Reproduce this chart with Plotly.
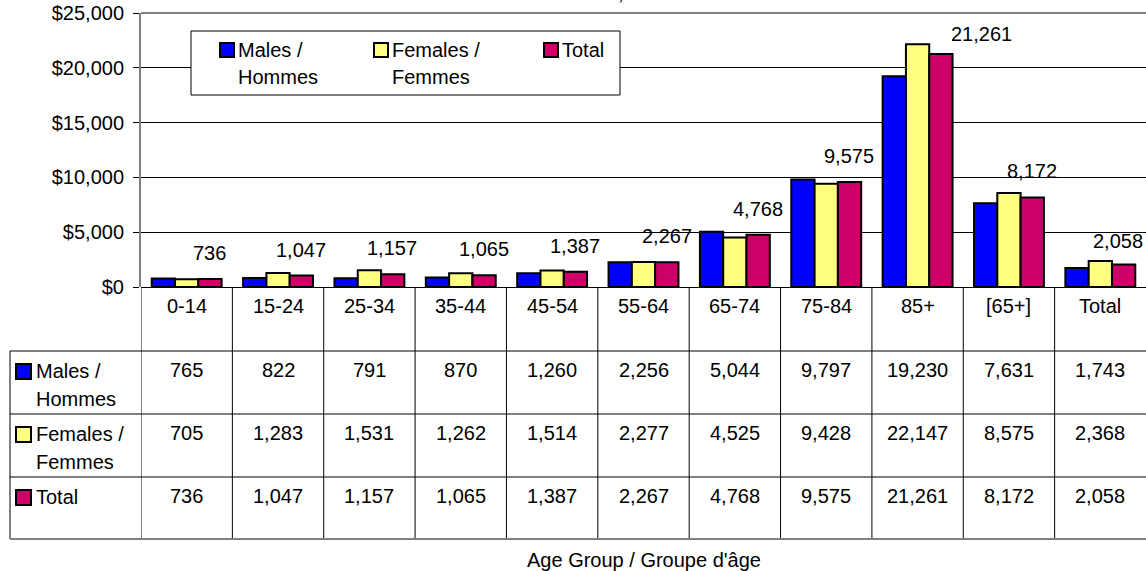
import plotly.graph_objects as go

# ---------------- data ----------------
categories = ["0-14", "15-24", "25-34", "35-44", "45-54", "55-64",
              "65-74", "75-84", "85+", "[65+]", "Total"]
males = [765, 822, 791, 870, 1260, 2256, 5044, 9797, 19230, 7631, 1743]
females = [705, 1283, 1531, 1262, 1514, 2277, 4525, 9428, 22147, 8575, 2368]
total = [736, 1047, 1157, 1065, 1387, 2267, 4768, 9575, 21261, 8172, 2058]
series_lines = [["Males /", "Hommes"], ["Females /", "Femmes"], ["Total"]]
y_ticks = [0, 5000, 10000, 15000, 20000, 25000]
y_tick_labels = ["$0", "$5,000", "$10,000", "$15,000", "$20,000", "$25,000"]
title_text = "Canada, 1998-99"
x_title = "Age Group / Groupe d'âge"

# ---------------- style / geometry ----------------
colors = ["#0000FF", "#FFFF80", "#CC0066"]
FONT = "Liberation Sans, Arial, sans-serif"
FS = 20
W, H = 1146, 571
L, T, B, R = 141, 13, 284, 0
PH = H - T - B
PW = W - L - R


def yp(pix):
    return (H - B - pix) / PH


def xp(pix):
    return (pix - L) / PW


series = [males, females, total]
fig = go.Figure()
for lines, vals, col in zip(series_lines, series, colors):
    fig.add_trace(go.Bar(
        x=categories, y=vals, name=" ".join(lines),
        marker=dict(color=col, line=dict(color="black", width=2)),
        showlegend=False, hoverinfo="x+y",
    ))

shapes = []
ann = []

# top border of plot
shapes.append(dict(type="line", xref="paper", yref="paper", x0=0, x1=1,
                   y0=1, y1=1, line=dict(color="#808080", width=2)))

# table vertical lines
for i in range(len(categories)):
    shapes.append(dict(type="line", xref="x", yref="paper", x0=i - 0.5,
                       x1=i - 0.5, y0=yp(287), y1=yp(539),
                       line=dict(color="black", width=1)))
# left edge of label column
shapes.append(dict(type="line", xref="paper", yref="paper", x0=xp(10),
                   x1=xp(10), y0=yp(351), y1=yp(539),
                   line=dict(color="black", width=1)))
# horizontal table lines
for pix in [351, 414, 477]:
    shapes.append(dict(type="line", xref="paper", yref="paper", x0=xp(10),
                       x1=1, y0=yp(pix), y1=yp(pix),
                       line=dict(color="black", width=1)))
shapes.append(dict(type="line", xref="paper", yref="paper", x0=xp(10),
                   x1=1, y0=yp(539), y1=yp(539),
                   line=dict(color="#808080", width=2)))

txt = dict(family=FONT, size=FS, color="black")

# header row (categories)
for c in categories:
    ann.append(dict(x=c, xref="x", y=yp(306), yref="paper", text=c,
                    showarrow=False, font=txt, yanchor="middle"))

# table rows
row_tops = [351, 414, 477]
for r, (lines, vals, col) in enumerate(zip(series_lines, series, colors)):
    top = row_tops[r]
    shapes.append(dict(type="rect", xref="paper", yref="paper",
                       x0=xp(16), x1=xp(31), y0=yp(top + 13), y1=yp(top + 28),
                       fillcolor=col, line=dict(color="black", width=2)))
    for k, line in enumerate(lines):
        ann.append(dict(x=xp(34), xref="paper", y=yp(top + 20 + 28 * k),
                        yref="paper", text=line, showarrow=False, font=txt,
                        xanchor="left", yanchor="middle"))
    for c, v in zip(categories, vals):
        ann.append(dict(x=c, xref="x", y=yp(top + 19), yref="paper",
                        text=f"{v:,}", showarrow=False, font=txt,
                        yanchor="middle"))

# legend box (manual, mirrors trace colours)
shapes.append(dict(type="rect", xref="paper", yref="paper", x0=xp(191),
                   x1=xp(620), y0=yp(31), y1=yp(95), fillcolor="white",
                   line=dict(color="black", width=1), layer="above"))
leg_x = [219, 373, 543]
for lines, col, lx in zip(series_lines, colors, leg_x):
    shapes.append(dict(type="rect", xref="paper", yref="paper",
                       x0=xp(lx + 1), x1=xp(lx + 15), y0=yp(43), y1=yp(57),
                       fillcolor=col, line=dict(color="black", width=2),
                       layer="above"))
    for k, line in enumerate(lines):
        ann.append(dict(x=xp(lx + 17), xref="paper", y=yp(50 + 27 * k),
                        yref="paper", text=line, showarrow=False, font=txt,
                        xanchor="left", yanchor="middle"))

# data labels (Total series) above the Total bar
nudges = {"85+": (41, -6), "Total": (-5, -3)}
for c, v in zip(categories, total):
    dx, dy = nudges.get(c, (0, 0))
    ann.append(dict(x=c, xref="x", y=v, yref="y", text=f"{v:,}",
                    showarrow=False, font=txt, xshift=23 + dx,
                    yshift=26 + dy, yanchor="middle"))

# axis title and (clipped) chart title
ann.append(dict(x=0.5, xref="paper", y=yp(560), yref="paper", text=x_title,
                showarrow=False, font=txt, yanchor="middle"))
ann.append(dict(x=xp(625), xref="paper", y=yp(6), yref="paper",
                text=title_text, showarrow=False, font=txt,
                yanchor="bottom"))

fig.update_layout(
    width=W, height=H,
    margin=dict(l=L, r=R, t=T, b=B, autoexpand=False),
    paper_bgcolor="white", plot_bgcolor="white",
    barmode="group", bargap=0.235, bargroupgap=0,
    font=txt,
    xaxis=dict(range=[-0.5, len(categories) - 0.5], showticklabels=False,
               showgrid=False, showline=False, ticks="", zeroline=False,
               fixedrange=True),
    yaxis=dict(range=[0, 25000], tickmode="array", tickvals=y_ticks,
               ticktext=y_tick_labels, showgrid=True, gridcolor="black",
               gridwidth=1, zeroline=True, zerolinecolor="black",
               zerolinewidth=1, showline=True, linecolor="#808080",
               linewidth=2, ticks="outside", ticklen=6, tickcolor="black",
               ticklabelstandoff=5, tickfont=txt, fixedrange=True),
    shapes=shapes, annotations=ann, showlegend=False,
)

fig.write_html("out.html", config={"displayModeBar": False},
               post_script="document.body.style.margin='0';"
                           "document.body.style.padding='0';")
